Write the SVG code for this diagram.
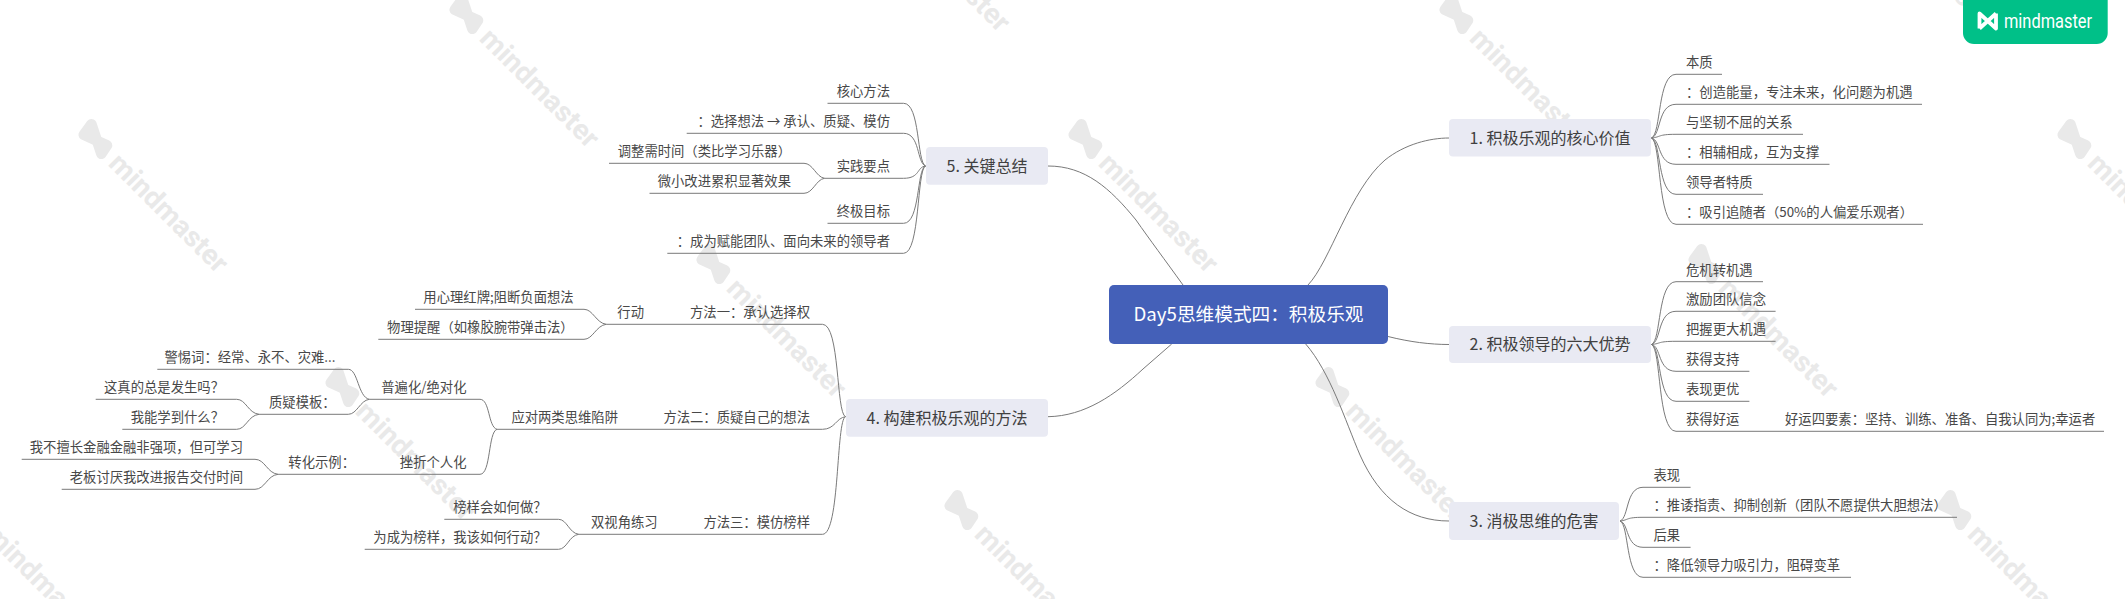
<svg xmlns="http://www.w3.org/2000/svg" width="2125" height="599" viewBox="0 0 2125 599">
<style>
text{font-family:"Noto Sans CJK SC","Noto Sans",sans-serif}
.l{font-size:13.33px;fill:#484848}
.e{text-anchor:end}
.t{font-size:16px;fill:#404040;text-anchor:middle}
.r{font-size:18.67px;fill:#fff;text-anchor:middle}
.tb{fill:#e9eaf3}
.c{fill:none;stroke:#7a7a7a;stroke-width:1}
.wt{font-family:Roboto,sans-serif;font-size:28px;font-weight:700;fill:#e9e9e9}
.wm{fill:#e9e9e9;stroke:#e9e9e9;stroke-width:10.500;stroke-linejoin:round;stroke-linecap:round}
</style>
<defs>
<g id="wm">
<path class="wm" d="M-13 -8L-11 5L13 -4L15 6Z"/>
<text class="wt" x="27" y="9.5" textLength="155" lengthAdjust="spacingAndGlyphs">mindmaster</text>
</g>
</defs>
<rect width="2125" height="599" fill="#fff"/>
<g id="watermarks" transform="translate(-3 -2)">
<use href="#wm" transform="translate(880 -100) rotate(45)"/>
<use href="#wm" transform="translate(1869 -100) rotate(45)"/>
<use href="#wm" transform="translate(469 16) rotate(45)"/>
<use href="#wm" transform="translate(1459 16) rotate(45)"/>
<use href="#wm" transform="translate(98 141) rotate(45)"/>
<use href="#wm" transform="translate(1088 141) rotate(45)"/>
<use href="#wm" transform="translate(2077 141) rotate(45)"/>
<use href="#wm" transform="translate(716 266) rotate(45)"/>
<use href="#wm" transform="translate(1708 266) rotate(45)"/>
<use href="#wm" transform="translate(345 389) rotate(45)"/>
<use href="#wm" transform="translate(1335 389) rotate(45)"/>
<use href="#wm" transform="translate(-26 512) rotate(45)"/>
<use href="#wm" transform="translate(964 512) rotate(45)"/>
<use href="#wm" transform="translate(1957 512) rotate(45)"/>
</g>
<g id="connectors" class="c">
<path class="c" d="M1308 285C1330 262 1350 190 1385 160C1405 144 1430 138 1449 138"/>
<path class="c" d="M1388 336.5C1410 342 1430 344.5 1449 344.5"/>
<path class="c" d="M1305.700 344C1330 372 1345 420 1360 455C1380 500 1410 521 1449 521"/>
<path class="c" d="M1171.700 344L1143 369C1115 395 1085 416 1048 416.700"/>
<path class="c" d="M1183 285C1165 260 1150 240 1136 220C1110 188 1085 166 1048 166"/>

<path class="c" d="M1651.500 138C1661.300 134 1657.400 74.300 1676 74.300H1722"/>
<path class="c" d="M1651.500 138C1661.300 135 1657.400 104.300 1676 104.300H1922"/>
<path class="c" d="M1651.500 138C1661.300 137 1657.400 134.300 1676 134.300H1803"/>
<path class="c" d="M1651.500 138C1661.300 140 1657.400 164.300 1676 164.300H1829.500"/>
<path class="c" d="M1651.500 138C1661.300 141 1657.400 194.300 1676 194.300H1763"/>
<path class="c" d="M1651.500 138C1661.300 142 1657.400 224.300 1676 224.300H1923"/>

<path class="c" d="M1651.500 344.500C1661.300 341 1657.400 281.700 1676 281.700H1763"/>
<path class="c" d="M1651.500 344.500C1661.300 342 1657.400 311.300 1676 311.300H1775.600"/>
<path class="c" d="M1651.500 344.500C1661.300 343.500 1657.400 341.300 1676 341.300H1775.600"/>
<path class="c" d="M1651.500 344.500C1661.300 346 1657.400 371.300 1676 371.300H1749.400"/>
<path class="c" d="M1651.500 344.500C1661.300 347 1657.400 401.300 1676 401.300H1749.400"/>
<path class="c" d="M1651.500 344.500C1661.300 348 1657.400 431.300 1676 431.300H1775"/>
<path class="c" d="M1775 431.300H2104"/>

<path class="c" d="M1620 521C1629 518 1625.500 487.300 1643 487.300H1690.600"/>
<path class="c" d="M1620 521C1629 520 1625.500 517.300 1643 517.300H1957"/>
<path class="c" d="M1620 521C1629 523 1625.500 547.300 1643 547.300H1690.600"/>
<path class="c" d="M1620 521C1629 524 1625.500 577.300 1643 577.300H1851"/>

<path class="c" d="M925.500 166C916.700 162 920.200 103.300 903.600 103.300H827.500"/>
<path class="c" d="M925.500 166C916.700 163 920.200 133.300 903.600 133.300H686.700"/>
<path class="c" d="M925.500 166C916.700 167 920.200 178.300 903.600 178.300H824.500"/>
<path class="c" d="M925.500 166C916.700 169 920.200 223.300 903.600 223.300H827.500"/>
<path class="c" d="M925.500 166C916.700 170 920.200 253.300 903.600 253.300H667.300"/>
<path class="c" d="M824.500 178.300C816 177 813 163.300 804 163.300H609"/>
<path class="c" d="M824.500 178.300C816 179.500 813 193.300 804 193.300H649.500"/>

<path class="c" d="M845.500 416.700C836 413 840 324.300 822.500 324.300H606.300"/>
<path class="c" d="M845.500 416.700C836 418 835 429.300 822.500 429.300H497"/>
<path class="c" d="M845.500 416.700C836 420 840 534.300 822.500 534.300H578.700"/>

<path class="c" d="M606.300 324.300C596 323 593 309.300 584 309.300H415"/>
<path class="c" d="M606.300 324.300C596 325.500 593 339.300 584 339.300H378.300"/>

<path class="c" d="M497 429.300C488 427 490 399.300 480 399.300H369.300"/>
<path class="c" d="M497 429.300C488 432 491 474.300 480 474.300H278"/>

<path class="c" d="M369.300 399.300C358 397 358 369.300 348.300 369.300H157.300"/>
<path class="c" d="M369.300 399.300C360 400.500 357 414.300 348.300 414.300H259"/>

<path class="c" d="M259 414.300C248 413 246 399.300 236.700 399.300H95.700"/>
<path class="c" d="M259 414.300C248 415.500 246 429.300 236.700 429.300H122.300"/>

<path class="c" d="M278 474.300C267 473 265 459.300 255 459.300H21.700"/>
<path class="c" d="M278 474.300C267 475.500 265 489.300 255 489.300H61.700"/>

<path class="c" d="M578.700 534.300C569 533 567 519.300 558.500 519.300H444.300"/>
<path class="c" d="M578.700 534.300C569 535.500 567 549.300 558.500 549.300H364.700"/>
</g>
<g id="root"><rect x="1109" y="285" width="279" height="59" rx="5" fill="#4460b8"/><text class="r" x="1248.500" y="321">Day5思维模式四：积极乐观</text></g>
<g id="topic1"><rect class="tb" x="1449" y="119" width="202" height="37.500" rx="4"/><text class="t" x="1550" y="143.500">1. 积极乐观的核心价值</text></g>
<g id="topic2"><rect class="tb" x="1449" y="326" width="202" height="37" rx="4"/><text class="t" x="1550" y="350.300">2. 积极领导的六大优势</text></g>
<g id="topic3"><rect class="tb" x="1449" y="502" width="170" height="38" rx="4"/><text class="t" x="1534" y="526.800">3. 消极思维的危害</text></g>
<g id="topic4"><rect class="tb" x="846" y="399" width="202" height="37.700" rx="4"/><text class="t" x="947" y="423.500">4. 构建积极乐观的方法</text></g>
<g id="topic5"><rect class="tb" x="926" y="147" width="122" height="37.700" rx="4"/><text class="t" x="987" y="171.500">5. 关键总结</text></g>

<g id="n1-1"><text class="l" x="1686" y="67.300">本质</text></g>
<g id="n1-2"><text class="l" x="1686" y="97.300">：创造能量，专注未来，化问题为机遇</text></g>
<g id="n1-3"><text class="l" x="1686" y="127.300">与坚韧不屈的关系</text></g>
<g id="n1-4"><text class="l" x="1686" y="157.300">：相辅相成，互为支撑</text></g>
<g id="n1-5"><text class="l" x="1686" y="187.300">领导者特质</text></g>
<g id="n1-6"><text class="l" x="1686" y="217.300">：吸引追随者（50%的人偏爱乐观者）</text></g>

<g id="n2-1"><text class="l" x="1686" y="274.500">危机转机遇</text></g>
<g id="n2-2"><text class="l" x="1686" y="304.300">激励团队信念</text></g>
<g id="n2-3"><text class="l" x="1686" y="334.300">把握更大机遇</text></g>
<g id="n2-4"><text class="l" x="1686" y="364.300">获得支持</text></g>
<g id="n2-5"><text class="l" x="1686" y="394.300">表现更优</text></g>
<g id="n2-6"><text class="l" x="1686" y="424.300">获得好运</text></g>
<g id="n2-6-1"><text class="l" x="1785" y="424.300">好运四要素：坚持、训练、准备、自我认同为;幸运者</text></g>

<g id="n3-1"><text class="l" x="1653.500" y="480.300">表现</text></g>
<g id="n3-2"><text class="l" x="1653.500" y="510.300">：推诿指责、抑制创新（团队不愿提供大胆想法）</text></g>
<g id="n3-3"><text class="l" x="1653.500" y="540.300">后果</text></g>
<g id="n3-4"><text class="l" x="1653.500" y="570.300">：降低领导力吸引力，阻碍变革</text></g>

<g id="n5-1"><text class="l e" x="890" y="96.300">核心方法</text></g>
<g id="n5-2"><text class="l e" x="890" y="126.300">：选择想法 → 承认、质疑、模仿</text></g>
<g id="n5-3"><text class="l e" x="890" y="171.300">实践要点</text></g>
<g id="n5-3-1"><text class="l e" x="791" y="156.300">调整需时间（类比学习乐器）</text></g>
<g id="n5-3-2"><text class="l e" x="791" y="186.300">微小改进累积显著效果</text></g>
<g id="n5-4"><text class="l e" x="890" y="216.300">终极目标</text></g>
<g id="n5-5"><text class="l e" x="890" y="246.300">：成为赋能团队、面向未来的领导者</text></g>

<g id="n4-1"><text class="l e" x="810" y="317.300">方法一：承认选择权</text></g>
<g id="n4-1-1"><text class="l e" x="644" y="317.300">行动</text></g>
<g id="n4-1-1-1"><text class="l e" x="573.700" y="302.300">用心理红牌;阻断负面想法</text></g>
<g id="n4-1-1-2"><text class="l e" x="573.700" y="332.300">物理提醒（如橡胶腕带弹击法）</text></g>

<g id="n4-2"><text class="l e" x="810" y="422.300">方法二：质疑自己的想法</text></g>
<g id="n4-2-1"><text class="l e" x="618" y="422.300">应对两类思维陷阱</text></g>
<g id="n4-2-1-1"><text class="l e" x="466.500" y="392.300">普遍化/绝对化</text></g>
<g id="n4-2-1-2"><text class="l e" x="466.500" y="467.300">挫折个人化</text></g>
<g id="n4-2-1-1-1"><text class="l e" x="335.500" y="362.300">警惕词：经常、永不、灾难...</text></g>
<g id="n4-2-1-1-2"><text class="l e" x="335.700" y="407.300">质疑模板：</text></g>
<g id="n4-2-1-1-2-1"><text class="l e" x="224" y="392.300">这真的总是发生吗？</text></g>
<g id="n4-2-1-1-2-2"><text class="l e" x="224" y="422.300">我能学到什么？</text></g>
<g id="n4-2-1-2-1"><text class="l e" x="355" y="467.300">转化示例：</text></g>
<g id="n4-2-1-2-1-1"><text class="l e" x="243" y="452.300">我不擅长金融金融非强项，但可学习</text></g>
<g id="n4-2-1-2-1-2"><text class="l e" x="243" y="482.300">老板讨厌我改进报告交付时间</text></g>

<g id="n4-3"><text class="l e" x="810" y="527.300">方法三：模仿榜样</text></g>
<g id="n4-3-1"><text class="l e" x="657.700" y="527.300">双视角练习</text></g>
<g id="n4-3-1-1"><text class="l e" x="546.600" y="512.300">榜样会如何做？</text></g>
<g id="n4-3-1-2"><text class="l e" x="546.600" y="542.300">为成为榜样，我该如何行动？</text></g>

<g id="badge">
<path d="M1963 0H2107.700V33a11 11 0 0 1-11 11H1974a11 11 0 0 1-11-11Z" fill="#00c088"/>
<path d="M1979.500 28.500V13.500L1996 28.500V13.500M1996 13.500L1979.500 28.500" fill="none" stroke="#fff" stroke-width="3.800" stroke-linejoin="round"/>
<text x="2004" y="27.500" font-size="20" fill="#fff" style="font-family:Roboto,sans-serif" textLength="88" lengthAdjust="spacingAndGlyphs">mindmaster</text>
</g>
</svg>
